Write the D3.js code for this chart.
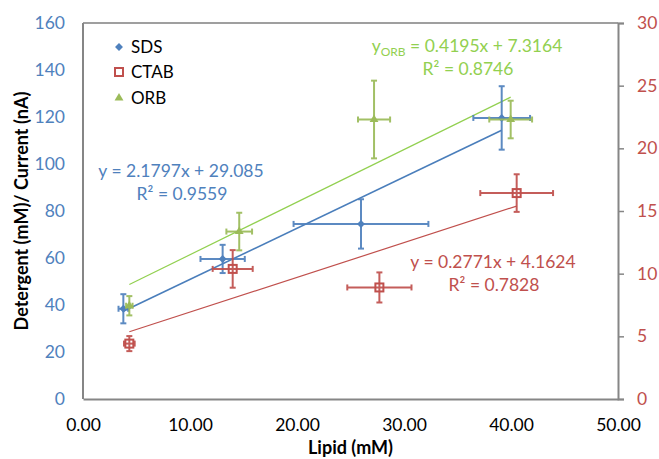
<!DOCTYPE html>
<html>
<head>
<meta charset="utf-8">
<script src="https://cdn.jsdelivr.net/npm/d3@7"></script>
<style>
  body { margin: 0; background: #fff; }
  svg { font-family: Lato, "Open Sans", sans-serif; }
</style>
</head>
<body>
<svg id="chart" width="659" height="459"></svg>
<script>
// data
const seriesNames = ['SDS', 'CTAB', 'ORB'];

const sdsX = [3.77, 13.05, 25.98, 39.13];
const sdsY = [38.4, 59.6, 74.5, 119.6];
const sdsXErr = [0.45, 2.07, 6.3, 2.65];
const sdsYErr = [6.2, 6.0, 10.5, 13.5];

const ctabX = [4.33, 13.99, 27.7, 40.53];
const ctabY = [4.42, 10.38, 8.9, 16.43];
const ctabXErr = [0.5, 1.87, 3.0, 3.4];
const ctabYErr = [0.6, 1.5, 1.2, 1.5];

const orbX = [4.33, 14.6, 27.2, 39.97];
const orbY = [7.44, 13.36, 22.3, 22.3];
const orbXErr = [0.3, 1.2, 1.5, 2.0];
const orbYErr = [0.77, 1.5, 3.1, 1.5];

const trendSlope = [2.1797, 0.2771, 0.4195];
const trendIntercept = [29.085, 4.1624, 7.3164];
const trendR2 = [0.9559, 0.7828, 0.8746];

const xTicks = [0, 10, 20, 30, 40, 50];
const yLeftTicks = [0, 20, 40, 60, 80, 100, 120, 140, 160];
const yRightTicks = [0, 5, 10, 15, 20, 25, 30];

const margin = {top: 23, right: 41, bottom: 60, left: 83};
const svg = d3.select('#chart');
const W = +svg.attr('width'), H = +svg.attr('height');
const width = W - margin.left - margin.right;
const height = H - margin.top - margin.bottom;

const x = d3.scaleLinear().domain([0, 50]).range([margin.left, margin.left + width]);
const yL = d3.scaleLinear().domain([0, 160]).range([margin.top + height, margin.top]);
const yR = d3.scaleLinear().domain([0, 30]).range([margin.top + height, margin.top]);

const colors = ['#4F81BD', '#C0504D', '#9BBB59'];
const lineColors = ['#4A7EBB', '#C0504D', '#92D050'];
const textColors = ['#4F81BD', '#C0504D', '#92D050'];

function build(xs, ys, xe, ye) {
  return xs.map((v, i) => ({x: v, y: ys[i], xe: xe[i], ye: ye[i]}));
}
const allSeries = [
  {name: seriesNames[0], data: build(sdsX, sdsY, sdsXErr, sdsYErr), y: yL},
  {name: seriesNames[1], data: build(ctabX, ctabY, ctabXErr, ctabYErr), y: yR},
  {name: seriesNames[2], data: build(orbX, orbY, orbXErr, orbYErr), y: yR}
];

// frame
svg.append('line').attr('x1', x(0)).attr('x2', x(50)).attr('y1', margin.top).attr('y2', margin.top)
  .attr('stroke', '#404040').attr('stroke-width', 1.2);
svg.append('line').attr('x1', x(0)).attr('x2', x(0)).attr('y1', margin.top).attr('y2', margin.top + height)
  .attr('stroke', '#868686').attr('stroke-width', 2);

// x axis
const xAxis = svg.append('g').attr('transform', `translate(0,${margin.top + height})`)
  .call(d3.axisBottom(x).tickValues(xTicks).tickFormat(d3.format('.2f')).tickSize(0).tickPadding(20));
xAxis.select('.domain').attr('stroke', '#868686').attr('stroke-width', 2);
xAxis.selectAll('text').attr('font-size', 17.5).attr('fill', '#000').attr('font-family', 'Lato');

// left axis
const lAxis = svg.append('g').attr('transform', `translate(${margin.left},0)`)
  .call(d3.axisLeft(yL).tickValues(yLeftTicks).tickSize(0).tickPadding(18));
lAxis.select('.domain').remove();
lAxis.selectAll('text').attr('font-size', 17.5).attr('fill', '#4F81BD').attr('font-family', 'Lato');

// right axis
const rAxis = svg.append('g').attr('transform', `translate(${margin.left + width},0)`)
  .call(d3.axisRight(yR).tickValues(yRightTicks).tickSize(6).tickPadding(13));
rAxis.select('.domain').attr('stroke', '#868686').attr('stroke-width', 2);
rAxis.selectAll('line').attr('stroke', '#868686').attr('stroke-width', 1.5);
rAxis.selectAll('text').attr('font-size', 17.5).attr('fill', '#C0504D').attr('font-family', 'Lato');

// axis titles
svg.append('text').attr('x', x(25)).attr('y', 454).attr('text-anchor', 'middle')
  .attr('font-weight', 'bold').attr('font-size', 18).text('Lipid (mM)');
svg.append('text').attr('transform', `translate(28,${margin.top + height / 2}) rotate(-90)`)
  .attr('text-anchor', 'middle').attr('font-weight', 'bold').attr('font-size', 18)
  .text('Detergent (mM)/ Current (nA)');

// trendlines
allSeries.forEach((s, i) => {
  const ext = d3.extent(s.data, d => d.x);
  svg.append('line')
    .attr('x1', x(ext[0])).attr('y1', s.y(trendSlope[i] * ext[0] + trendIntercept[i]))
    .attr('x2', x(ext[1])).attr('y2', s.y(trendSlope[i] * ext[1] + trendIntercept[i]))
    .attr('stroke', lineColors[i]).attr('stroke-width', i === 0 ? 1.6 : 1.2);
});

// error bars + markers
const cap = 3;
allSeries.forEach((s, i) => {
  const g = svg.append('g').attr('stroke', colors[i]).attr('stroke-width', 2).attr('opacity', 0.92);
  s.data.forEach(d => {
    const cx = x(d.x), cy = s.y(d.y);
    const x0 = x(d.x - d.xe), x1 = x(d.x + d.xe);
    const y0 = s.y(d.y - d.ye), y1 = s.y(d.y + d.ye);
    g.append('line').attr('x1', x0).attr('x2', x1).attr('y1', cy).attr('y2', cy);
    g.append('line').attr('x1', x0).attr('x2', x0).attr('y1', cy - cap).attr('y2', cy + cap);
    g.append('line').attr('x1', x1).attr('x2', x1).attr('y1', cy - cap).attr('y2', cy + cap);
    g.append('line').attr('x1', cx).attr('x2', cx).attr('y1', y0).attr('y2', y1);
    g.append('line').attr('x1', cx - cap).attr('x2', cx + cap).attr('y1', y0).attr('y2', y0);
    g.append('line').attr('x1', cx - cap).attr('x2', cx + cap).attr('y1', y1).attr('y2', y1);
  });
  drawMarker(svg, i, s.data.map(d => [x(d.x), s.y(d.y)]));
});

function drawMarker(parent, i, pts) {
  pts.forEach(p => {
    if (i === 0) {
      parent.append('path').attr('d', d3.symbol(d3.symbolDiamond2, 40)())
        .attr('transform', `translate(${p[0]},${p[1]})`).attr('fill', colors[0]);
    } else if (i === 1) {
      parent.append('rect').attr('x', p[0] - 4).attr('y', p[1] - 4).attr('width', 8).attr('height', 8)
        .attr('fill', 'none').attr('stroke', colors[1]).attr('stroke-width', 2);
    } else {
      parent.append('path').attr('d', d3.symbol(d3.symbolTriangle, 34)())
        .attr('transform', `translate(${p[0]},${p[1]})`).attr('fill', colors[2]);
    }
  });
}

// legend
const legendY = [47, 72, 98];
seriesNames.forEach((n, i) => {
  drawMarker(svg, i, [[119, legendY[i]]]);
  svg.append('text').attr('x', 131).attr('y', legendY[i] + 6).attr('font-size', 17)
    .attr('fill', '#000').text(n);
});

// trendline equations
const fmt = v => v.toString();
const eqPos = [[181, 177], [493, 268], [467, 52]];
allSeries.forEach((s, i) => {
  const t = svg.append('text').attr('x', eqPos[i][0]).attr('y', eqPos[i][1])
    .attr('text-anchor', 'middle').attr('font-size', 17.5).attr('fill', textColors[i]);
  t.append('tspan').text('y');
  if (i === 2) t.append('tspan').attr('font-size', 12).attr('dy', 4).text('ORB');
  t.append('tspan').attr('dy', i === 2 ? -4 : 0)
    .text(` = ${fmt(trendSlope[i])}x + ${fmt(trendIntercept[i])}`);
  svg.append('text').attr('x', eqPos[i][0] + 1).attr('y', eqPos[i][1] + 23)
    .attr('text-anchor', 'middle').attr('font-size', 17.5).attr('fill', textColors[i])
    .text(`R² = ${fmt(trendR2[i])}`);
});
</script>
</body>
</html>
